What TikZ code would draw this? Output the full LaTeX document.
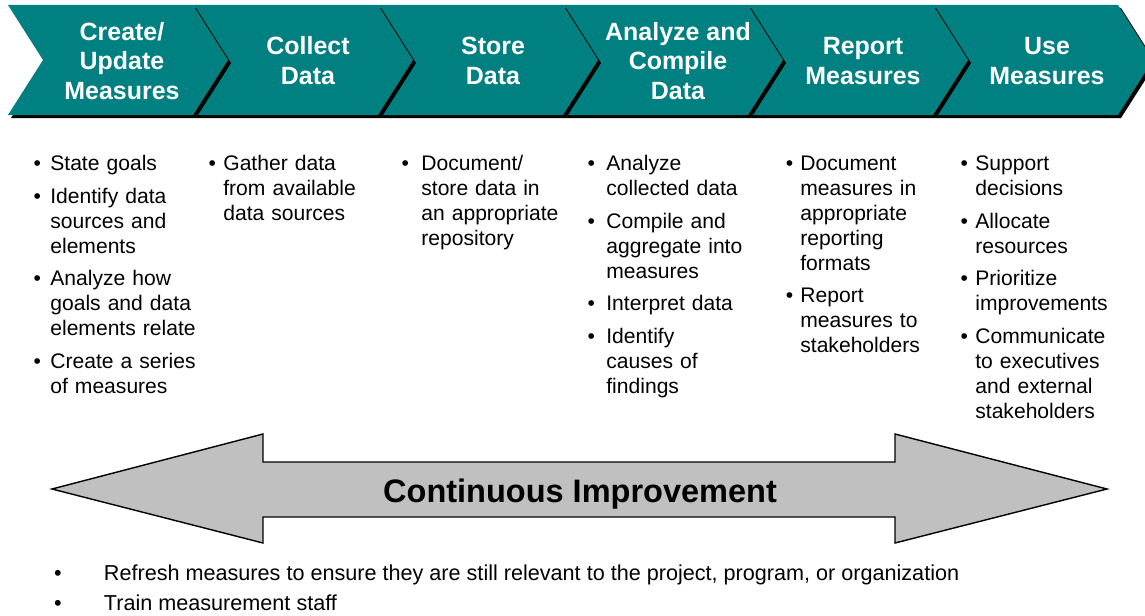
\documentclass[tikz,border=0pt]{standalone}
\usepackage{fontspec}
\setmainfont{Liberation Sans}
\usepackage{enumitem}
\usepackage{tikz}
\usetikzlibrary{positioning}

\definecolor{stepteal}{RGB}{0,128,128}
\definecolor{arrowgray}{RGB}{192,192,192}

\newlist{tasklist}{itemize}{1}
\setlist[tasklist]{label=\textbullet, nosep, itemsep=4.5pt, leftmargin=0pt, labelwidth=1em}

\begin{document}
\begin{tikzpicture}[x=0.02cm, y=-0.02cm,
    steptitle/.style={text=white, align=center, inner sep=0pt,
        font=\fontsize{14.2}{17}\selectfont\bfseries},
    tasks/.style={anchor=north west, inner sep=0pt, text width=3.2cm, align=left,
        font=\fontsize{12}{14.2}\selectfont},
    note/.style={inner sep=0pt, font=\fontsize{12.3}{14.5}\selectfont}]
    \useasboundingbox (0,0) rectangle (1145,615);

    % Chevrons, right to left so each shadow lies on the next one
    \foreach \x in {933,748,563,378,193,8} {
        \fill[black] (\x+3,8) -- ++(185,0) -- ++(35,55) -- ++(-35,55) -- ++(-185,0) -- ++(35,-55) -- cycle;
        \fill[stepteal] (\x,5) -- ++(185,0) -- ++(35,55) -- ++(-35,55) -- ++(-185,0) -- ++(35,-55) -- cycle;
    }

    % Step titles
    \node[steptitle] (create) at (122,61) {Create/\\Update\\Measures};
    \node[steptitle] (collect) at (308,61) {Collect\\Data};
    \node[steptitle] (store) at (493,61) {Store\\Data};
    \node[steptitle] (analyze) at (678,61) {Analyze and\\Compile\\Data};
    \node[steptitle] (report) at (863,61) {Report\\Measures};
    \node[steptitle] (use) at (1047,61) {Use\\Measures};

    % Tasks under each step
    \node[tasks] (createtasks) at (50,145) {\begin{tasklist}[labelsep=5.3pt]
        \item State goals
        \item Identify data\\sources and\\elements
        \item Analyze how\\goals and data\\elements relate
        \item Create a series\\of measures
    \end{tasklist}};
    \node[tasks] (collecttasks) at (223,145) {\begin{tasklist}[labelsep=4.2pt]
        \item Gather data\\from available\\data sources
    \end{tasklist}};
    \node[tasks] (storetasks) at (421,145) {\begin{tasklist}[labelsep=7pt]
        \item Document/\\store data in\\an appropriate\\repository
    \end{tasklist}};
    \node[tasks] (analyzetasks) at (606,145) {\begin{tasklist}[labelsep=6.5pt]
        \item Analyze\\collected data
        \item Compile and\\aggregate into\\measures
        \item Interpret data
        \item Identify\\causes of\\findings
    \end{tasklist}};
    \node[tasks] (reporttasks) at (800,145) {\begin{tasklist}[labelsep=4pt]
        \item Document\\measures in\\appropriate\\reporting\\formats
        \item Report\\measures to\\stakeholders
    \end{tasklist}};
    \node[tasks] (usetasks) at (975,145) {\begin{tasklist}[labelsep=4.2pt]
        \item Support\\decisions
        \item Allocate\\resources
        \item Prioritize\\improvements
        \item Communicate\\to executives\\and external\\stakeholders
    \end{tasklist}};

    % Continuous improvement arrow
    \draw[fill=arrowgray, line width=0.8pt] (52,489) -- (263,434) -- (263,462) -- (895,462)
        -- (895,434) -- (1107,489) -- (895,543) -- (895,517) -- (263,517) -- (263,543) -- cycle;
    \node[anchor=base, inner sep=0pt, font=\fontsize{18.5}{22}\selectfont\bfseries] (ci) at (580,502) {Continuous Improvement};

    % Ongoing activities
    \node[note, anchor=base] (dot1) at (58,580) {\textbullet};
    \node[note, anchor=base] (dot2) at (58,610) {\textbullet};
    \node[note, base right=0.83cm of dot1] (refresh) {Refresh measures to ensure they are still relevant to the project, program, or organization};
    \node[note, base right=0.83cm of dot2] (train) {Train measurement staff};
\end{tikzpicture}
\end{document}
